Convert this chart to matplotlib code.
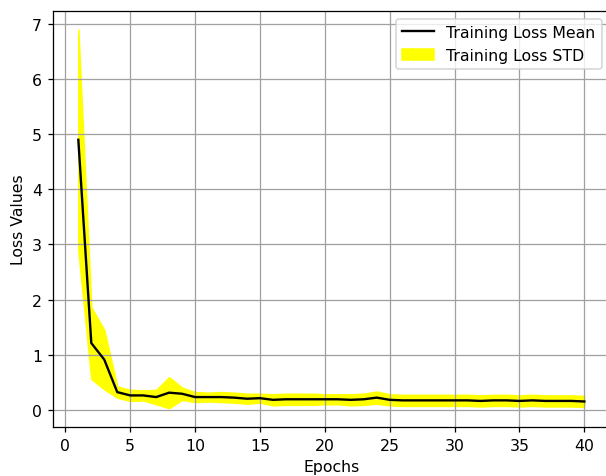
import matplotlib
matplotlib.use("Agg")
import matplotlib.pyplot as plt
import numpy as np

epochs = list(range(1, 41))
loss_mean = [4.9, 1.21, 0.91, 0.32, 0.26, 0.26, 0.23, 0.31, 0.29, 0.23,
             0.23, 0.23, 0.22, 0.20, 0.21, 0.18, 0.19, 0.19, 0.19, 0.19,
             0.19, 0.18, 0.19, 0.22, 0.18, 0.17, 0.17, 0.17, 0.17, 0.17,
             0.17, 0.16, 0.17, 0.17, 0.16, 0.17, 0.16, 0.16, 0.16, 0.15]
loss_std = [2.0, 0.65, 0.54, 0.10, 0.10, 0.09, 0.13, 0.28, 0.11, 0.09,
            0.08, 0.09, 0.09, 0.09, 0.08, 0.10, 0.10, 0.10, 0.10, 0.09,
            0.09, 0.10, 0.10, 0.11, 0.10, 0.10, 0.10, 0.10, 0.10, 0.10,
            0.10, 0.10, 0.10, 0.10, 0.10, 0.10, 0.10, 0.10, 0.10, 0.10]

mean = np.array(loss_mean)
std = np.array(loss_std)

dpi = 113
fig, ax = plt.subplots(figsize=(606 / dpi, 477 / dpi), dpi=dpi)

ax.plot(epochs, mean, color="black", label="Training Loss Mean")
ax.fill_between(epochs, mean - std, mean + std, color="yellow", label="Training Loss STD")

ax.set_xlabel("Epochs")
ax.set_ylabel("Loss Values")
ax.grid(True, color="#a0a0a0")
ax.legend(loc="upper right")

# the original picture is cut off slightly on the right
fig.subplots_adjust(left=0.0875, right=1.006, top=0.9755, bottom=0.1027)
fig.savefig("out.png", dpi=dpi)
